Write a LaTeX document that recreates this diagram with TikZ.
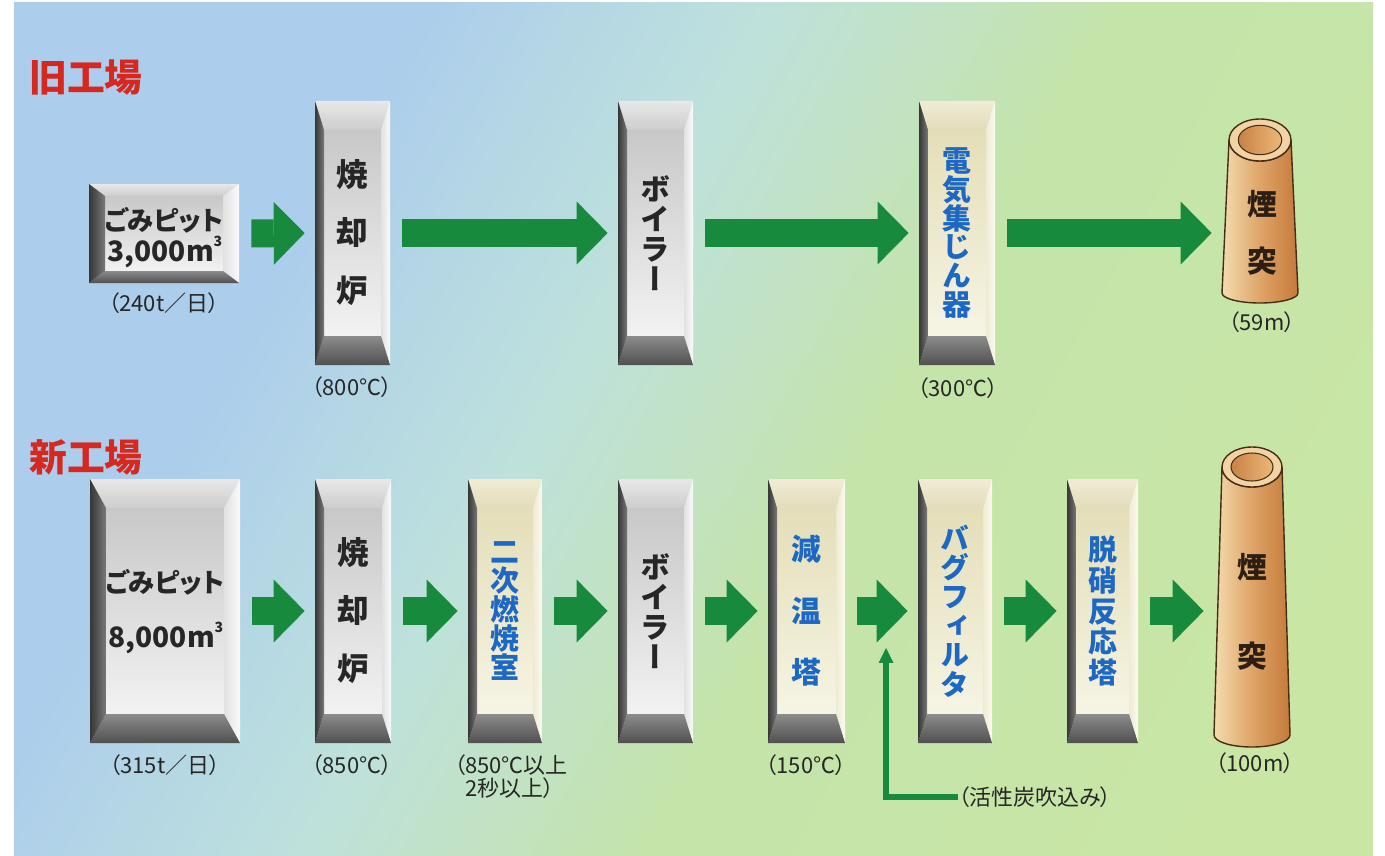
\documentclass[tikz,border=0pt]{standalone}
\usepackage{fontspec}
\setmainfont{Noto Sans CJK JP}[RawFeature=+palt]
\newfontfamily\tatefont{Noto Sans CJK JP}[RawFeature=+vert]
\usetikzlibrary{arrows.meta,fit,positioning}
\definecolor{flowgreen}{RGB}{24,138,62}
\definecolor{titlered}{RGB}{214,40,30}
\definecolor{labelblue}{RGB}{28,104,196}
\definecolor{inkgray}{RGB}{38,38,38}
\definecolor{stackink}{RGB}{45,30,20}
\definecolor{chimline}{RGB}{70,45,25}
\definecolor{bgblue}{RGB}{172,205,236}
\definecolor{bgaqua}{RGB}{190,225,220}
\definecolor{bggreen}{RGB}{196,228,170}
\definecolor{bglime}{RGB}{206,232,160}
\pgfdeclarehorizontalshading{backdropshade}{100bp}{color(0bp)=(bgblue); color(31bp)=(bgblue); color(44bp)=(bgaqua); color(57bp)=(bggreen); color(100bp)=(bglime)}
\newcommand{\tightlines}{\lineskiplimit=-50pt\relax}
\newcommand{\cubic}{\raisebox{0.55em}{\fontsize{8}{8}\selectfont 3}}
\tikzset{
  backdrop/.style={shading=backdropshade, shading angle=-29},
  gray face/.style={top color={rgb,255:red,200;green,200;blue,200}, bottom color={rgb,255:red,242;green,242;blue,242}},
  gray top/.style={top color={rgb,255:red,232;green,232;blue,232}, bottom color={rgb,255:red,205;green,205;blue,205}},
  gray side/.style={left color={rgb,255:red,225;green,225;blue,225}, right color={rgb,255:red,250;green,250;blue,250}},
  cream face/.style={top color={rgb,255:red,228;green,222;blue,184}, bottom color={rgb,255:red,246;green,244;blue,228}},
  cream top/.style={top color={rgb,255:red,240;green,236;blue,214}, bottom color={rgb,255:red,226;green,220;blue,186}},
  cream side/.style={left color={rgb,255:red,238;green,234;blue,210}, right color={rgb,255:red,252;green,250;blue,240}},
  bevel foot/.style={top color={rgb,255:red,140;green,140;blue,140}, bottom color={rgb,255:red,80;green,80;blue,80}},
  bevel edge/.style={left color={rgb,255:red,55;green,55;blue,55}, right color={rgb,255:red,120;green,120;blue,120}},
  chimney body/.style={left color={rgb,255:red,243;green,220;blue,174}, right color={rgb,255:red,196;green,122;blue,58}, middle color={rgb,255:red,223;green,164;blue,104}, draw=chimline, line width=0.8pt},
  chimney rim/.style={fill={rgb,255:red,242;green,212;blue,164}, draw=chimline, line width=0.8pt},
  chimney hole/.style={left color={rgb,255:red,200;green,130;blue,70}, right color={rgb,255:red,236;green,184;blue,120}, draw=chimline, line width=0.6pt},
  flow/.style={draw=flowgreen, line width=15.9pt, -{Triangle[width=35.7pt,length=17.6pt,line width=0pt]}, shorten <=0.24cm, shorten >=0.2cm},
  inject/.style={draw=flowgreen, line width=3.4pt, -{Triangle[width=8.5pt,length=8.5pt,line width=0pt]}},
  title/.style={font=\bfseries\fontsize{21.5}{21.5}\selectfont, text=titlered, inner sep=0pt},
  tate/.style 2 args={font={\tatefont\bfseries\fontsize{#1}{#2}\selectfont\tightlines}, align=center, inner sep=0pt},
  pitname/.style={font=\bfseries\fontsize{15}{15}\selectfont, text=inkgray, inner sep=0pt},
  pitnum/.style={font=\bfseries\fontsize{16}{16}\selectfont, text=inkgray, inner sep=0pt},
  lab/.style={font=\fontsize{12.5}{13}\selectfont, text=inkgray, inner sep=0pt}
}
\newcommand{\panel}[8]{%
  \shade[#8 face] (#2+#6,#3+#7) rectangle (#4-#6,#5-#7);
  \shade[#8 top] (#2,#3) -- (#4,#3) -- (#4-#6,#3+#7) -- (#2+#6,#3+#7) -- cycle;
  \shade[#8 side] (#4,#3) -- (#4,#5) -- (#4-#6,#5-#7) -- (#4-#6,#3+#7) -- cycle;
  \shade[bevel foot] (#2,#5) -- (#4,#5) -- (#4-#6,#5-#7) -- (#2+#6,#5-#7) -- cycle;
  \shade[bevel edge] (#2,#3) -- (#2+#6,#3+#7) -- (#2+#6,#5-#7) -- (#2,#5) -- cycle;
  \node[fit={(#2,#3) (#4,#5)}, inner sep=0pt] (#1) {};
}
\newcommand{\chimney}[8]{%
  \path[chimney body] (#2-#5,#3) -- (#2-#7,#4) arc[start angle=180, end angle=0, x radius=#7, y radius=#8] -- (#2+#5,#3) arc[start angle=0, end angle=180, x radius=#5, y radius=#6] -- cycle;
  \path[chimney rim] (#2,#3) ellipse[x radius=#5, y radius=#6];
  \path[chimney hole] (#2,#3) ellipse[x radius=0.7*#5, y radius=0.7*#6];
  \node[fit={(#2-#7,#3-#6) (#2+#7,#4+#8)}, inner sep=0pt] (#1) {};
}
\begin{document}
\begin{tikzpicture}[x=0.02cm, y=-0.02cm]
  \useasboundingbox (0,0) rectangle (1385,855);
  \shade[backdrop] (14,3) rectangle (1373,855);

  % old plant
  \node[title] (oldT) at (86,78) {旧工場};
  \panel{pitA}{89}{184}{239}{283}{16}{12}{gray}
  \panel{furnA}{315}{101}{390}{365}{9}{29}{gray}
  \panel{boilA}{618}{101}{693}{365}{9}{29}{gray}
  \panel{espA}{919}{101}{995}{365}{9}{29}{cream}
  \chimney{stackA}{1260}{140}{293}{31}{21}{38}{10}
  \node[pitname] (pitAname) at (164,220) {ごみピット};
  \node[pitnum] (pitAvol) at (165,252) {3,000m\cubic};
  \node[lab] (pitAlab) at (164,303) {（240t／日）};
  \node[tate={18}{33}, text=inkgray] (furnAtxt) at (furnA) {焼\\却\\炉};
  \node[lab] (furnAlab) at (352,387) {（800℃）};
  \node[tate={17}{17}, text=inkgray] (boilAtxt) at (boilA) {ボ\\イ\\ラ\\ー};
  \node[tate={16.5}{16.4}, text=labelblue] (espAtxt) at (espA) {電\\気\\集\\じ\\ん\\器};
  \node[lab] (espAlab) at (958,388) {（300℃）};
  \node[tate={17}{32.3}, text=stackink] (stackAtxt) at (1262,233) {煙\\突};
  \node[lab] (stackAlab) at (1262,322) {（59m）};
  \draw[flow] (pitA.east) -- (furnA.west);
  \draw[flow] (furnA.east) -- (boilA.west);
  \draw[flow] (boilA.east) -- (espA.west);
  \draw[flow] (espA.east) -- (espA.east -| stackA.west);

  % new plant
  \node[title] (newT) at (86,457) {新工場};
  \panel{pitB}{90}{479}{240}{743}{16}{29}{gray}
  \panel{furnB}{315}{479}{391}{743}{9}{29}{gray}
  \panel{combB}{468}{479}{542}{743}{9}{29}{cream}
  \panel{boilB}{618}{479}{693}{743}{9}{29}{gray}
  \panel{coolB}{768}{479}{845}{743}{9}{29}{cream}
  \panel{bagB}{918}{479}{992}{743}{9}{29}{cream}
  \panel{denoxB}{1067}{479}{1138}{743}{9}{29}{cream}
  \chimney{stackB}{1252}{467}{735}{30}{20}{38}{12}
  \node[pitname] (pitBname) at (165,582) {ごみピット};
  \node[pitnum] (pitBvol) at (166,638) {8,000m\cubic};
  \node[lab] (pitBlab) at (165,765) {（315t／日）};
  \node[tate={18}{33}, text=inkgray] (furnBtxt) at (furnB) {焼\\却\\炉};
  \node[lab] (furnBlab) at (352,765) {（850℃）};
  \node[tate={16.5}{16.4}, text=labelblue] (combBtxt) at (combB) {二\\次\\燃\\焼\\室};
  \node[lab, align=left] (combBlab) at (511,777) {（850℃以上\\\hphantom{（}2秒以上）};
  \node[tate={17}{17}, text=inkgray] (boilBtxt) at (boilB) {ボ\\イ\\ラ\\ー};
  \node[tate={17}{35}, text=labelblue] (coolBtxt) at (coolB) {減\\温\\塔};
  \node[lab] (coolBlab) at (806,765) {（150℃）};
  \node[tate={16.5}{16.6}, text=labelblue] (bagBtxt) at (bagB) {バ\\グ\\フ\\ィ\\ル\\タ};
  \node[tate={16.5}{17.5}, text=labelblue] (denoxBtxt) at (denoxB) {脱\\硝\\反\\応\\塔};
  \node[tate={17}{50.5}, text=stackink] (stackBtxt) at (1252,612) {煙\\突};
  \node[lab] (stackBlab) at (1255,763) {（100m）};
  \node[lab] (carbon) at (1035,797) {（活性炭吹込み）};
  \coordinate (inj) at (886,648);
  \draw[flow] (pitB.east) -- (furnB.west);
  \draw[flow] (furnB.east) -- (combB.west);
  \draw[flow] (combB.east) -- (boilB.west);
  \draw[flow] (boilB.east) -- (coolB.west);
  \draw[flow] (coolB.east) -- (bagB.west);
  \draw[flow] (bagB.east) -- (denoxB.west);
  \draw[flow] (denoxB.east) -- (denoxB.east -| stackB.west);
  \draw[inject] (carbon.west) -| (inj);
\end{tikzpicture}
\end{document}
